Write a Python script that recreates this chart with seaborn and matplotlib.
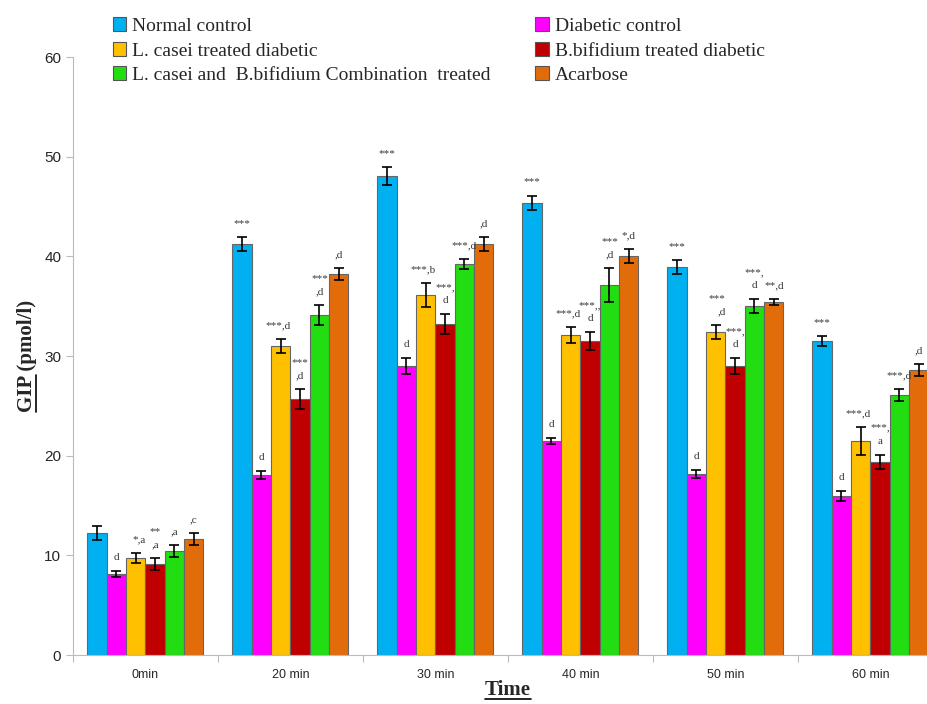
import numpy as np
import pandas as pd
import matplotlib
matplotlib.use("Agg")
import matplotlib.pyplot as plt
import seaborn as sns
from matplotlib.patches import Patch
from matplotlib.lines import Line2D

times = ['0min', '20 min', '30 min', '40 min', '50 min', '60 min']
groups = ['Normal control', 'Diabetic control', 'L. casei treated diabetic',
          'B.bifidium treated diabetic', 'L. casei and  B.bifidium Combination  treated', 'Acarbose']
colors = ['#00B0F0', '#FF00FF', '#FFC000', '#C00000', '#22DD11', '#E36C0A']

normal = [12.2, 41.2, 48.1, 45.4, 38.9, 31.5]
diabetic = [8.1, 18.1, 29.0, 21.5, 18.2, 16.0]
lcasei = [9.7, 31.0, 36.1, 32.1, 32.4, 21.5]
bbif = [9.1, 25.7, 33.2, 31.5, 29.0, 19.4]
combo = [10.4, 34.1, 39.2, 37.1, 35.0, 26.1]
acarbose = [11.6, 38.2, 41.2, 40.0, 35.4, 28.6]

normal_err = [0.7, 0.7, 0.9, 0.7, 0.7, 0.5]
diabetic_err = [0.3, 0.4, 0.8, 0.3, 0.4, 0.5]
lcasei_err = [0.5, 0.7, 1.2, 0.8, 0.7, 1.4]
bbif_err = [0.6, 1.0, 1.0, 0.9, 0.8, 0.7]
combo_err = [0.6, 1.0, 0.5, 1.7, 0.7, 0.6]
acarbose_err = [0.6, 0.6, 0.7, 0.7, 0.3, 0.6]

labels_normal = ['', '***', '***', '***', '***', '***']
labels_diabetic = ['d', 'd', 'd', 'd', 'd', 'd']
labels_lcasei = ['*,a', '***,d', '***,b', '***,d', '***\n,d', '***,d']
labels_bbif = ['**\n,a', '***\n,d', '***,\nd', '***,,\nd', '***,\nd', '***,\na']
labels_combo = [',a', '***\n,d', '***,d', '***\n,d', '***,\nd', '***,d']
labels_acarbose = [',c', ',d', ',d', '*,d', '**,d', ',d']

values = [normal, diabetic, lcasei, bbif, combo, acarbose]
errors = [normal_err, diabetic_err, lcasei_err, bbif_err, combo_err, acarbose_err]
labels = [labels_normal, labels_diabetic, labels_lcasei, labels_bbif, labels_combo, labels_acarbose]

rows = []
for g, vals in zip(groups, values):
    for t, v in zip(times, vals):
        rows.append({'Time': t, 'GIP': v, 'Group': g})
df = pd.DataFrame(rows)

sns.set_style('white')
fig = plt.figure(figsize=(9.27, 7.04), dpi=100)
ax = fig.add_axes([0.0787, 0.0696, 0.9385, 0.8494])

sns.barplot(data=df, x='Time', y='GIP', hue='Group', hue_order=groups,
            palette=colors, saturation=1, errorbar=None, width=0.8,
            edgecolor='#666666', linewidth=0.8, ax=ax, legend=False)

bar_sets = list(ax.containers)
for i, cont in enumerate(bar_sets):
    xs = [b.get_x() + b.get_width() / 2 for b in cont]
    bw = cont[0].get_width()
    ax.errorbar(xs, values[i], yerr=errors[i], fmt='none', ecolor='black',
                elinewidth=1.2, capsize=3.5, capthick=1.2)
    for x, v, e, lab in zip(xs, values[i], errors[i], labels[i]):
        if not lab:
            continue
        if i == 2:
            tx, ha = x + bw * 0.5, 'right'
        else:
            tx, ha = x, 'center'
        ax.text(tx, v + e + 0.9, lab, ha=ha, va='bottom', fontsize=8,
                color='#3a3a3a', family='Liberation Serif', linespacing=1.6)

ax.set_ylim(0, 60)
ax.set_xlim(-0.5, 5.5)
ax.set_yticks(range(0, 61, 10))
ax.set_xticks(np.arange(-0.5, 6, 1), minor=False)
ax.set_xticklabels([''] * 7)
ax.set_xticks(np.arange(6), minor=True)
ax.set_xticklabels(times, minor=True, fontsize=9, family='Liberation Sans')
ax.tick_params(axis='x', which='minor', length=0, pad=10)
ax.tick_params(axis='x', which='major', length=5, color='#bbbbbb', direction='out', bottom=True)
ax.tick_params(axis='y', length=5, color='#bbbbbb', direction='out', left=True, labelsize=11)
for lab in ax.get_yticklabels():
    lab.set_family('Liberation Sans')
ax.spines['top'].set_visible(False)
ax.spines['right'].set_visible(False)
ax.spines['left'].set_color('#bbbbbb')
ax.spines['bottom'].set_color('#bbbbbb')
ax.set_xlabel('')
ax.set_ylabel('')

xl = fig.text(508 / 927, 1 - 690 / 704, 'Time', ha='center', va='center',
              fontsize=15, fontweight='bold', family='Liberation Serif')
yl = fig.text(27 / 927, 1 - 356 / 704, 'GIP (pmol/l)', ha='center', va='center',
              rotation=90, fontsize=15, fontweight='bold', family='Liberation Serif')

order = [0, 2, 4, 1, 3, 5]
handles = [Patch(facecolor=colors[i], edgecolor='#555555', linewidth=0.8) for i in order]
leg = fig.legend(handles, [groups[i] for i in order], ncol=2, loc='upper left',
                 bbox_to_anchor=(95 / 927, 1.0), frameon=False,
                 prop={'family': 'Liberation Serif', 'size': 14},
                 handlelength=0.7, handleheight=0.7, handletextpad=0.3,
                 columnspacing=2.3, labelspacing=0.35)

# underline the axis titles
fig.canvas.draw()
r = fig.canvas.get_renderer()
bb = xl.get_window_extent(r)
fig.add_artist(Line2D([bb.x0, bb.x1], [bb.y0 + 1, bb.y0 + 1], transform=None,
                      color='black', linewidth=1.2))
gip = fig.text(0, 0, 'GIP', fontsize=15, fontweight='bold', family='Liberation Serif')
gw = gip.get_window_extent(r).width
gip.remove()
bb = yl.get_window_extent(r)
fig.add_artist(Line2D([bb.x1 - 1, bb.x1 - 1], [bb.y0, bb.y0 + gw], transform=None,
                      color='black', linewidth=1.2))

fig.savefig('out.png', dpi=100)
